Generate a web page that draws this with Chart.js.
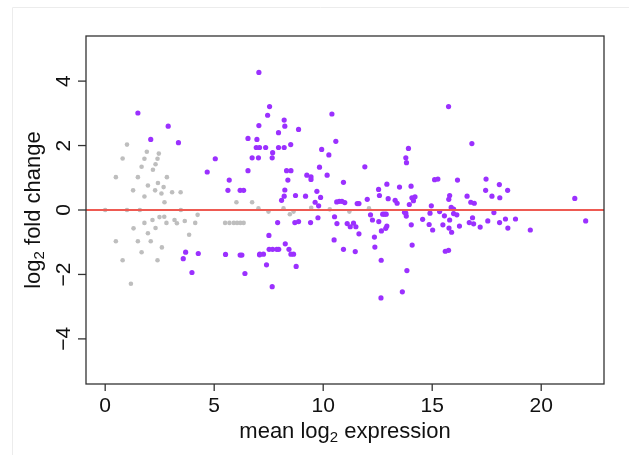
<!DOCTYPE html>
<html>
<head>
<meta charset="utf-8">
<script src="https://cdn.jsdelivr.net/npm/chart.js@4"></script>
<style>
  body { margin: 0; background: #fff; }
  canvas { display: block; }
</style>
</head>
<body>
<canvas id="ma-plot" width="629" height="455"></canvas>
<script>
// non-significant genes (gray)
const nsMean = [
  1.0, 0.8, 1.91, 2.46, 1.8, 2.4, 2.31, 1.67, 2.19, 0.49,
  1.5, 2.83, 2.42, 1.96, 2.68, 1.28, 2.29, 2.58, 3.07, 3.46,
  1.8, 2.72, 6.02, 6.74, 0, 1.0, 1.59, 3.47, 4.24, 2.49,
  2.71, 2.17, 1.8, 2.81, 3.18, 3.29, 3.65, 4.13, 1.3, 2.31,
  1.96, 3.85, 0.49, 1.5, 2.09, 2.6, 1.67, 0.8, 2.4, 1.18,
  5.5, 5.7, 5.9, 6.05, 6.2, 6.35, 7.03, 7.49, 8.18, 8.47,
  8.64, 9.45, 10.3, 11.2, 12.1
];
const nsLfc = [
  2.03, 1.6, 1.81, 1.75, 1.59, 1.59, 1.42, 1.34, 1.25, 1.02,
  1.02, 1.02, 0.84, 0.76, 0.71, 0.61, 0.61, 0.51, 0.55, 0.55,
  0.42, 0.24, 0.24, 0.24, 0, 0, 0, 0, -0.15, -0.22,
  -0.21, -0.31, -0.4, -0.4, -0.31, -0.41, -0.34, -0.4, -0.57, -0.56,
  -0.72, -0.77, -0.97, -0.97, -0.97, -1.16, -1.31, -1.56, -1.56, -2.29,
  -0.4, -0.4, -0.4, -0.4, -0.4, -0.4, 0.05, -0.05, 0.05, -0.13,
  -0.05, 0.07, 0.02, -0.05, 0.05
];

// significant genes (purple)
const sigMean = [
  1.5, 2.89, 2.09, 3.36, 7.05, 7.05, 6.55, 6.96, 6.93, 7.08,
  5.05, 6.74, 7.03, 4.68, 6.55, 5.69, 5.63, 6.19, 6.35, 3.69,
  3.58, 4.27, 3.98, 5.52, 6.19, 6.27, 6.41, 7.08, 7.54, 7.45,
  8.21, 8.24, 7.95, 8.87, 7.36, 7.68, 7.95, 8.21, 8.51, 7.66,
  8.32, 8.52, 8.38, 8.24, 8.21, 8.09, 8.73, 9.19, 9.25, 9.44,
  9.44, 9.71, 9.88, 9.63, 9.79, 9.83, 9.93, 10.26, 10.18, 10.4,
  10.58, 10.93, 10.62, 10.74, 10.86, 10.99, 11.56, 11.64, 11.91, 12.02,
  12.54, 12.58, 12.92, 12.98, 13.3, 13.39, 13.5, 14.03, 14.07, 14.21,
  13.95, 13.79, 13.82, 13.91, 7.91, 8.7, 8.87, 9.42, 9.76, 10.52,
  10.63, 11.1, 11.24, 11.39, 11.5, 11.64, 12.17, 12.26, 12.55, 12.73,
  12.81, 12.89, 12.92, 12.87, 12.67, 12.35, 12.37, 13.73, 13.81, 14.04,
  14.08, 7.51, 7.52, 7.68, 7.87, 7.96, 8.26, 8.43, 8.52, 8.64,
  7.09, 7.26, 7.4, 8.76, 7.66, 10.5, 10.93, 11.47, 12.66, 12.65,
  13.63, 13.84, 15.75, 16.82, 15.11, 15.26, 16.16, 17.47, 17.45, 18.08,
  18.46, 17.74, 18.1, 16.6, 16.77, 16.93, 15.8, 15.76, 14.14, 14.96,
  15.87, 15.98, 21.54, 22.04, 13.79, 14.56, 14.9, 14.86, 15.02, 15.34,
  15.56, 15.49, 15.8, 15.77, 15.89, 15.98, 16.13, 16.25, 16.7, 16.9,
  16.85, 17.2, 17.55, 17.83, 18.09, 18.36, 18.47, 18.82, 19.5, 15.6,
  15.75
];
const sigLfc = [
  3.01, 2.6, 2.19, 2.09, 4.27, 2.62, 2.22, 2.19, 1.94, 1.94,
  1.59, 1.62, 1.62, 1.18, 1.22, 0.93, 0.61, 0.61, 0.61, -1.31,
  -1.51, -1.35, -1.94, -1.38, -1.4, -1.4, -1.97, -1.39, 3.21, 2.94,
  2.79, 2.6, 2.4, 2.5, 1.94, 1.78, 1.94, 1.94, 2.03, 1.62,
  1.22, 1.22, 0.93, 0.62, 0.43, 0.3, 0.45, 0.43, 1.08, 1.03,
  0.95, 0.58, 0.39, 0.24, 0.13, 1.33, 1.88, 1.71, 1.08, 2.98,
  2.13, 0.86, 0.25, 0.27, 0.27, 0.23, 0.2, 0.2, 1.34, 0.33,
  0.64, 0.45, 0.8, 0.35, 0.3, 0.21, 0.71, 0.74, 0.38, 0.41,
  0.17, 1.62, 1.47, 1.91, -0.39, -0.39, -0.36, -0.39, -0.24, -0.21,
  -0.42, -0.42, -0.52, -0.41, -0.52, -0.74, -0.15, -0.31, -0.36, -0.13,
  -0.13, -0.13, -0.5, -0.57, -0.65, -0.84, -1.15, -0.07, -0.19, -0.46,
  -1.09, -0.79, -1.22, -1.22, -1.22, -1.22, -1.05, -1.22, -1.37, -1.37,
  -1.37, -1.37, -1.7, -1.75, -2.38, -0.93, -1.22, -1.29, -1.56, -2.73,
  -2.54, -1.88, 3.21, 2.06, 0.94, 0.96, 0.93, 0.96, 0.61, 0.79,
  0.61, 0.43, 0.38, 0.43, 0.24, 0.21, 0.45, 0.33, 0.29, 0.13,
  0.08, 0.03, 0.36, -0.34, -0.1, -0.29, -0.1, -0.45, -0.62, -0.05,
  -0.18, -0.46, -0.31, -0.56, -0.69, -0.11, -0.15, -0.5, -0.39, -0.43,
  -0.24, -0.53, -0.34, -0.08, -0.39, -0.28, -0.56, -0.28, -0.62, -1.28,
  -1.25
];

const xTicks = [0, 5, 10, 15, 20];
const yTicks = [-4, -2, 0, 2, 4];
const xRange = [-0.88, 22.88];
const yRange = [-5.4, 5.4];

const toPoints = (xs, ys) => xs.map((x, i) => ({ x: x, y: ys[i] }));

const FONT = '"Liberation Sans", Arial, sans-serif';

// draws the R-like frame, axes and labels using the chart's own scales
const rAxes = {
  id: 'rAxes',
  afterDraw(chart) {
    const ctx = chart.ctx;
    const a = chart.chartArea;
    const xs = chart.scales.x;
    const ys = chart.scales.y;
    ctx.save();

    // faint page border
    ctx.strokeStyle = '#ececec';
    ctx.lineWidth = 1;
    ctx.beginPath();
    ctx.moveTo(12.5, 455);
    ctx.lineTo(12.5, 7.5);
    ctx.lineTo(629, 7.5);
    ctx.stroke();

    // plot box
    ctx.strokeStyle = '#333';
    ctx.lineWidth = 1.3;
    ctx.strokeRect(a.left, a.top, a.right - a.left, a.bottom - a.top);

    ctx.fillStyle = '#111';
    ctx.font = '21px ' + FONT;

    // x axis ticks
    ctx.textAlign = 'center';
    ctx.textBaseline = 'top';
    xTicks.forEach(v => {
      const px = xs.getPixelForValue(v);
      ctx.beginPath();
      ctx.moveTo(px, a.bottom);
      ctx.lineTo(px, a.bottom + 7);
      ctx.stroke();
      ctx.fillText(String(v), px, a.bottom + 12);
    });

    // y axis ticks, labels rotated as in R
    yTicks.forEach(v => {
      const py = ys.getPixelForValue(v);
      ctx.beginPath();
      ctx.moveTo(a.left, py);
      ctx.lineTo(a.left - 8, py);
      ctx.stroke();
      ctx.save();
      ctx.translate(a.left - 22, py);
      ctx.rotate(-Math.PI / 2);
      ctx.textAlign = 'center';
      ctx.textBaseline = 'middle';
      ctx.fillText(v < 0 ? '\u2212' + Math.abs(v) : String(v), 0, 0);
      ctx.restore();
    });

    // titles with subscript 2
    const drawTitle = (pre, post, cx, cy) => {
      ctx.font = '22px ' + FONT;
      const w1 = ctx.measureText(pre).width;
      const w3 = ctx.measureText(post).width;
      ctx.font = '15px ' + FONT;
      const w2 = ctx.measureText('2').width;
      const total = w1 + w2 + w3;
      let x = cx - total / 2;
      ctx.textAlign = 'left';
      ctx.textBaseline = 'middle';
      ctx.font = '22px ' + FONT;
      ctx.fillText(pre, x, cy);
      x += w1;
      ctx.font = '15px ' + FONT;
      ctx.fillText('2', x, cy + 6);
      x += w2;
      ctx.font = '22px ' + FONT;
      ctx.fillText(post, x, cy);
    };

    drawTitle('mean log', ' expression', (a.left + a.right) / 2, a.bottom + 48);

    ctx.save();
    ctx.translate(a.left - 52, (a.top + a.bottom) / 2);
    ctx.rotate(-Math.PI / 2);
    drawTitle('log', ' fold change', 0, 0);
    ctx.restore();

    ctx.restore();
  }
};

new Chart(document.getElementById('ma-plot'), {
  type: 'scatter',
  data: {
    datasets: [
      {
        type: 'line',
        data: [{ x: xRange[0], y: 0 }, { x: xRange[1], y: 0 }],
        borderColor: '#ee5a52',
        borderWidth: 2,
        pointRadius: 0
      },
      {
        data: toPoints(sigMean, sigLfc),
        backgroundColor: '#9b30ff',
        borderWidth: 0,
        pointRadius: 2.6
      },
      {
        data: toPoints(nsMean, nsLfc),
        backgroundColor: '#bebebe',
        borderWidth: 0,
        pointRadius: 2.3
      }
    ]
  },
  options: {
    responsive: false,
    animation: false,
    layout: { padding: { left: 86, right: 25, top: 36, bottom: 71 } },
    plugins: { legend: { display: false }, tooltip: { enabled: false } },
    scales: {
      x: { type: 'linear', min: xRange[0], max: xRange[1], display: false },
      y: { type: 'linear', min: yRange[0], max: yRange[1], display: false }
    }
  },
  plugins: [rAxes]
});
</script>
</body>
</html>
